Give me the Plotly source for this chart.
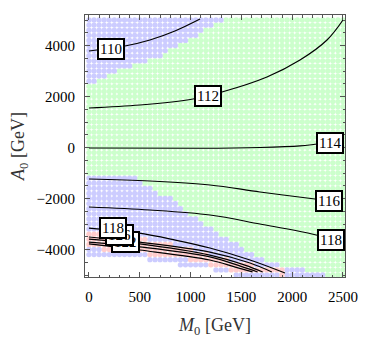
import numpy as np
import plotly.graph_objects as go

# scan grid (GeV)
m0_grid = np.arange(0, 2501, 50)
a0_grid = np.arange(-5000, 5001, 200)

# upper blue wedge: for each A0, largest M0 that is still blue
top_blue_a0 = [2450, 2650, 2850, 3050, 3250, 3450, 3650, 3850, 4050, 4250, 4450, 4650, 4850, 5050]
top_blue_m0 = [-1, 80, 200, 330, 470, 620, 730, 800, 900, 1000, 1090, 1160, 1260, 1340]

# lower blue region edge
low_blue_a0 = [-5000, -4900, -4600, -4200, -3800, -3430, -3080, -2720, -2330, -2000, -1780, -1500, -1200]
low_blue_m0 = [2300, 2250, 1880, 1610, 1460, 1260, 1180, 1020, 900, 800, 670, 570, 470]

# no points below this A0
floor_m0 = [0, 500, 700, 1000, 1300, 1450, 2500]
floor_a0 = [-4250, -4350, -4500, -4650, -4850, -5050, -5050]

# red band
red_m0 = [0, 500, 900, 1200, 1500, 1900]
red_top = [-3350, -3550, -3850, -4250, -4550, -4750]
red_bot = [-3950, -4150, -4350, -4600, -4900, -5000]

# contour lines (m_h in GeV)
contours = {
    "110": ([0, 354, 600, 846, 1093], [3784, 3980, 4216, 4569, 5039]),
    "112": ([0, 502, 1024, 1309, 1752, 2077, 2343, 2500], [1549, 1667, 1902, 2176, 2765, 3431, 4216, 5000]),
    "114": ([0, 1093, 1683, 2077, 2254, 2500], [-20, -30, 0, 60, 137, 240]),
    "116": ([0, 600, 1191, 1683, 2224, 2500], [-1235, -1314, -1471, -1745, -2020, -2150]),
    "118": ([0, 600, 1191, 1683, 2195, 2500], [-2333, -2451, -2647, -3000, -3392, -3720]),
    "118b": ([0, 480, 850, 1190, 1585, 1930], [-3160, -3350, -3630, -3940, -4410, -4920]),
    "120": ([0, 500, 1190, 1585, 1800], [-3510, -3710, -4100, -4530, -4880]),
    "122": ([0, 500, 1190, 1535, 1710], [-3590, -3780, -4220, -4610, -4880]),
    "124": ([0, 500, 1190, 1490, 1660], [-3710, -3900, -4290, -4650, -4880]),
    "126": ([0, 500, 1190, 1440, 1610], [-3780, -4020, -4410, -4690, -4880]),
}

# contour labels: text, M0, A0 (drawn in order, last on top)
labels = [
    ("110", 212, 3880),
    ("112", 1171, 2020),
    ("114", 2372, 196),
    ("116", 2362, -2098),
    ("118", 2382, -3627),
    ("122", 364, -3706),
    ("126", 305, -3430),
    ("118", 236, -3157),
]

serif = "Liberation Serif, Times New Roman, serif"

M, A = np.meshgrid(m0_grid, a0_grid)
M = M.ravel()
A = A.ravel()

keep = A >= np.interp(M, floor_m0, floor_a0)
blue = ((A >= 2500) & (M <= np.interp(A, top_blue_a0, top_blue_m0))) | \
       ((A <= -1150) & (M <= np.interp(A, low_blue_a0, low_blue_m0)))
red = (M <= 1900) & (A <= np.interp(M, red_m0, red_top)) & (A >= np.interp(M, red_m0, red_bot))
green = keep & ~blue & ~red
blue = keep & blue & ~red
red = keep & red

fig = go.Figure()
for mask, col in [(green, "rgb(204,255,204)"), (blue, "rgb(204,204,255)"), (red, "rgb(255,204,204)")]:
    fig.add_trace(go.Scatter(x=M[mask], y=A[mask], mode="markers",
                             marker=dict(size=5.3, color=col, line=dict(width=0)),
                             hoverinfo="skip"))

for name, (xs, ys) in contours.items():
    fig.add_trace(go.Scatter(x=xs, y=ys, mode="lines", line=dict(color="black", width=1.2),
                             line_shape="spline", hoverinfo="skip"))

for txt, lx, ly in labels:
    fig.add_annotation(x=lx, y=ly, text=txt, showarrow=False,
                       font=dict(family=serif, size=15, color="black"),
                       bgcolor="white", bordercolor="black", borderwidth=2, borderpad=1)

axis_common = dict(showline=True, linecolor="#555", linewidth=1, mirror="allticks",
                   ticks="inside", ticklen=5, tickcolor="#555", showgrid=False, zeroline=False,
                   tickfont=dict(family=serif, size=15, color="black"))

fig.update_xaxes(range=[-39, 2520], tickvals=[0, 500, 1000, 1500, 2000, 2500],
                 minor=dict(dtick=100, ticks="inside", ticklen=2.5, tickcolor="#555"),
                 ticklabelstandoff=6,
                 title=dict(text="<i>M</i><sub>0</sub> [GeV]", standoff=14,
                            font=dict(family=serif, size=18, color="#333")),
                 **axis_common)
fig.update_yaxes(range=[-5078, 5196], tickvals=[-4000, -2000, 0, 2000, 4000],
                 minor=dict(dtick=500, ticks="inside", ticklen=2.5, tickcolor="#555"),
                 ticklabelstandoff=6,
                 title=dict(text="<i>A</i><sub>0</sub> [GeV]", standoff=8,
                            font=dict(family=serif, size=18, color="#333")),
                 **axis_common)

# page body adds an 8px offset, so margins are shifted to compensate
fig.update_layout(width=374, height=341, showlegend=False,
                  margin=dict(l=77, r=37, t=7, b=72),
                  plot_bgcolor="white", paper_bgcolor="white")

fig.write_html("out.html")
